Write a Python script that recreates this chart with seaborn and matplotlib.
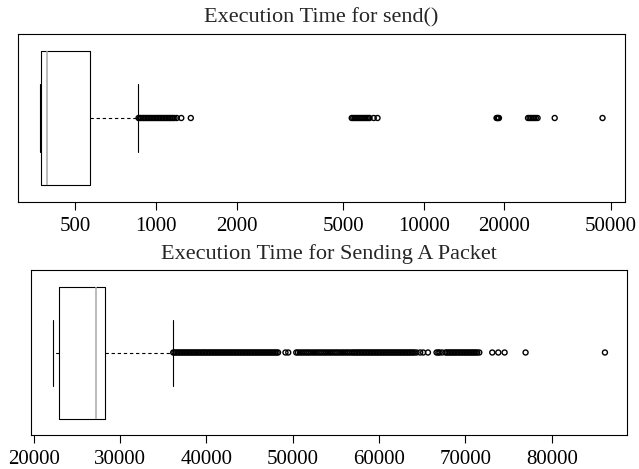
import numpy as np
import matplotlib
matplotlib.use("Agg")
import matplotlib.pyplot as plt
from matplotlib.ticker import FixedLocator, NullLocator
import seaborn as sns

# ---------------- data ----------------
# five-number summary: lower whisker, Q1, median, Q3, upper whisker
send_box = [370, 372, 391, 566, 857]
send_outliers = [
    860, 871, 882, 894, 905, 917, 929, 941, 953, 965,
    978, 991, 1004, 1017, 1030, 1043, 1057, 1071, 1085, 1099,
    1113, 1128, 1142, 1157, 1172, 1195, 1242, 1348,
    5378, 5450, 5520, 5590, 5660, 5740, 5810, 5890, 5970, 6050,
    6120, 6200, 6270, 6500, 6715,
    18690, 18800, 18950, 19080,
    24500, 24830, 25160, 25500, 25850, 26200, 26600,
    30820, 46500,
]
send_ticks = [500, 1000, 2000, 5000, 10000, 20000, 50000]
send_title = "Execution Time for send()"

packet_box = [22233, 22928, 27176, 28219, 36099]
packet_outliers = [
    36150, 36300, 36480, 36640, 36810, 36990, 37150, 37320, 37500, 37660,
    37830, 38010, 38170, 38350, 38520, 38690, 38860, 39040, 39200, 39380,
    39550, 39720, 39890, 40060, 40240, 40400, 40580, 40750, 40920, 41090,
    41260, 41440, 41600, 41780, 41950, 42120, 42290, 42460, 42640, 42800,
    42980, 43150, 43320, 43490, 43660, 43840, 44000, 44180, 44350, 44520,
    44690, 44860, 45040, 45200, 45380, 45550, 45720, 45890, 46060, 46240,
    46400, 46580, 46750, 46920, 47090, 47260, 47440, 47600, 47780, 47950,
    48120, 48290, 49150, 49470,
    50400, 50600, 50830, 51050, 51260, 51480, 51700, 51900, 52120, 52350,
    52560, 52780, 53000, 53210, 53430, 53650, 53860, 54080, 54300, 54510,
    54730, 54950, 55160, 55380, 55600, 55810, 56030, 56250, 56460, 56680,
    56900, 57080, 57260, 57430, 57610, 57780, 57960, 58130, 58310, 58480,
    58660, 58830, 59010, 59180, 59360, 59530, 59710, 59880, 60060, 60230,
    60410, 60580, 60760, 60930, 61110, 61280, 61460, 61630, 61810, 61980,
    62160, 62330, 62510, 62680, 62860, 63030, 63210, 63380, 63560, 63730,
    63910, 64080, 64330, 64750, 65100, 65650,
    66650, 66850, 67000, 67300,
    67690, 67860, 68040, 68210, 68390, 68560, 68740, 68910, 69090, 69260,
    69440, 69610, 69790, 69960, 70140, 70310, 70490, 70660, 70840, 71010,
    71190, 71360, 71600,
    73100, 73800, 74530, 76960, 86150,
]
packet_ticks = [20000, 30000, 40000, 50000, 60000, 70000, 80000]
packet_title = "Execution Time for Sending A Packet"

# ---------------- style ----------------
sns.set_theme(style="ticks")
plt.rcParams.update({
    "axes.edgecolor": "black",
    "axes.linewidth": 0.8,
    "xtick.color": "black",
    "xtick.direction": "out",
    "xtick.major.size": 6,
    "xtick.major.width": 0.8,
    "xtick.major.pad": 5,
    "xtick.labelsize": 15,
    "axes.titlesize": 16,
})
plt.rcParams["font.family"] = ["Liberation Serif", "DejaVu Serif"]

fig = plt.figure(figsize=(6.39, 4.69), dpi=100)
W, H = 639.0, 469.0
ax1 = fig.add_axes([18 / W, 1 - 202 / H, 607 / W, 168 / H])
ax2 = fig.add_axes([31 / W, 1 - 435 / H, 596 / W, 165 / H])


def draw(ax, box, outliers, ticks, title, log):
    if log:
        ax.set_xscale("log")
    sns.boxplot(
        x=box, ax=ax, whis=(0, 100), showfliers=False, fill=False,
        width=0.8, color="black", linecolor="black", linewidth=0.8,
        boxprops=dict(color="black"),
        capprops=dict(color="black"),
        medianprops=dict(color="#a8a8a8", linewidth=1.1),
        whiskerprops=dict(color="black", linestyle=(0, (3, 2.5))),
    )
    sns.scatterplot(
        x=outliers, y=np.zeros(len(outliers)), ax=ax, marker="o", s=13,
        facecolors="none", edgecolor="black", linewidth=1.0,
        zorder=3, legend=False,
    )
    vals = np.array(list(box) + list(outliers), dtype=float)
    if log:
        lo, hi = np.log10(vals.min()), np.log10(vals.max())
        pad = 0.04 * (hi - lo)
        ax.set_xlim(10 ** (lo - pad), 10 ** (hi + pad))
    else:
        lo, hi = vals.min(), vals.max()
        pad = 0.04 * (hi - lo)
        ax.set_xlim(lo - pad, hi + pad)
    ax.set_ylim(0.5, -0.5)
    ax.xaxis.set_major_locator(FixedLocator(ticks))
    ax.xaxis.set_minor_locator(NullLocator())
    ax.set_xticklabels([str(t) for t in ticks])
    ax.set_yticks([])
    ax.set_xlabel("")
    ax.set_ylabel("")
    ax.set_title(title, pad=8)
    for sp in ax.spines.values():
        sp.set_visible(True)
        sp.set_color("black")


draw(ax1, send_box, send_outliers, send_ticks, send_title, True)
draw(ax2, packet_box, packet_outliers, packet_ticks, packet_title, False)

fig.savefig("out.png", dpi=100, facecolor="white")
